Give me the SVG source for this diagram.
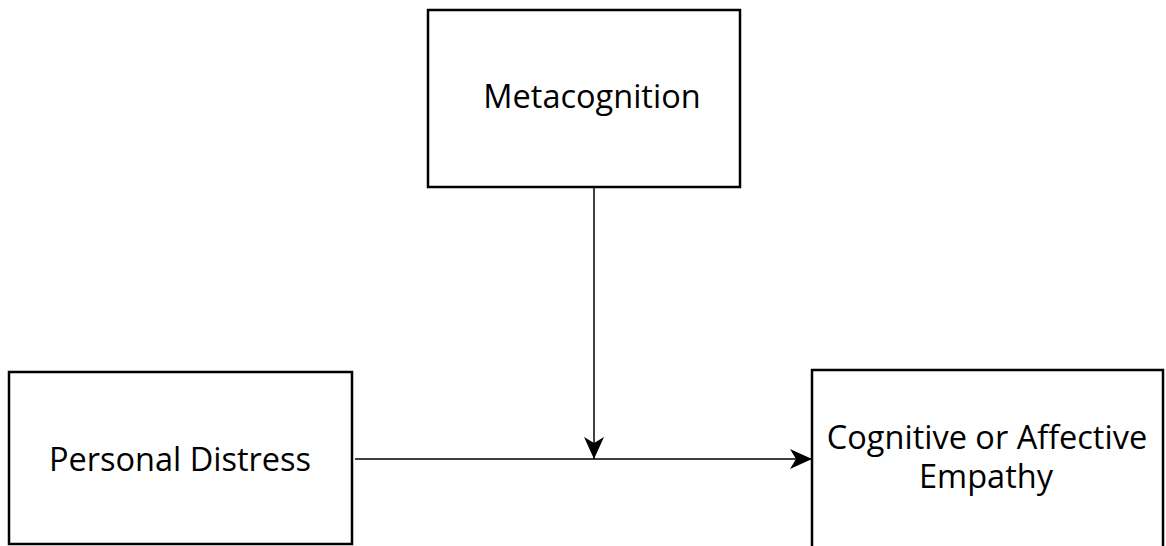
<svg xmlns="http://www.w3.org/2000/svg" width="1166" height="546" viewBox="0 0 1166 546">
<style>
.box{fill:#fff;stroke:#000;stroke-width:2.5}
.lbl{font-family:"Open Sans","Liberation Sans",sans-serif;font-size:32.5px;fill:#000;text-anchor:middle}
.edge{stroke:#000;stroke-width:1.5;fill:none}
</style>
<defs>
<marker id="arr" markerWidth="24" markerHeight="24" refX="22" refY="12" orient="auto" markerUnits="userSpaceOnUse">
<path d="M0,2 L22,12 L0,22 L6,12 Z" fill="#000"/>
</marker>
</defs>
<rect width="1166" height="546" fill="#fff"/>
<g id="metacognition">
<rect class="box" x="428" y="10" width="312" height="177"/>
<text class="lbl" x="592" y="108">Metacognition</text>
</g>
<g id="personal-distress">
<rect class="box" x="9" y="372" width="343" height="172"/>
<text class="lbl" x="180" y="471">Personal Distress</text>
</g>
<g id="empathy">
<rect class="box" x="812" y="370" width="351" height="190"/>
<text class="lbl" x="987" y="449">Cognitive or Affective</text>
<text class="lbl" x="986" y="488">Empathy</text>
</g>
<g id="connectors">
<line class="edge" x1="355" y1="459" x2="812" y2="459" marker-end="url(#arr)"/>
<line class="edge" x1="594" y1="187" x2="594" y2="459" marker-end="url(#arr)"/>
</g>
</svg>
